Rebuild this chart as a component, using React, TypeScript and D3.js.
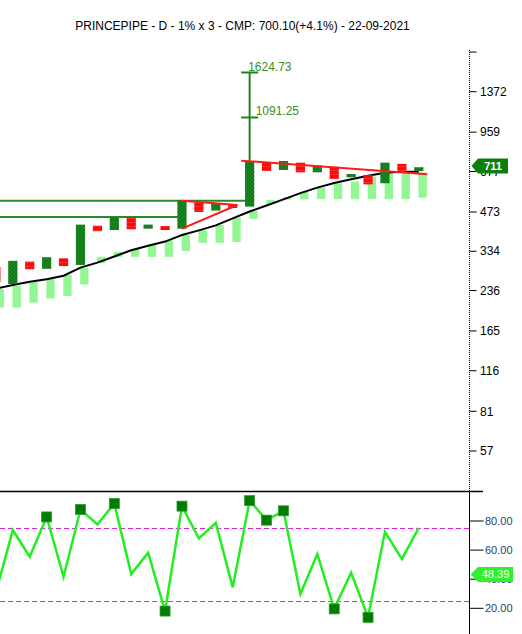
import React from "react";
import * as d3 from "d3";

// P&F chart data (column 0 sits just off the left edge)
const title = "PRINCEPIPE - D - 1% x 3 - CMP: 700.10(+4.1%) - 22-09-2021";
const colTypes = ["O", "X", "O", "X", "O", "X", "O", "X", "O", "X", "O", "X", "O", "X", "O", "X", "O", "X", "O", "X", "O", "X", "O", "X", "O", "X"];
const colLow = [255, 250, 285, 286, 293, 296, 399, 403, 406, 408, 403, 408, 473, 479, 490, 496, 680, 686, 672, 672, 633, 643, 604, 610, 670, 680];
const colHigh = [290, 307, 305, 317, 314, 423, 419, 451, 450, 423, 418, 523, 514, 508, 505, 743, 734, 743, 732, 714, 706, 662, 656, 732, 724, 703];
const bandLow = [203, 203, 212, 220, 225, 249, 301, 318, 318, 318, 318, 335, 360, 360, 363, 445, 508, 528, 529, 531, 531, 531, 531, 531, 531, 537];
const bandHigh = [239, 246, 254, 261, 271, 289, 318, 332, 341, 353, 367, 386, 403, 422, 450, 477, 526, 540, 566, 587, 610, 619, 647, 666, 670, 670];
const maValues = [240, 248, 255, 261, 269, 289, 302, 319, 337, 351, 364, 386, 402, 420, 447, 475, 501, 529, 559, 587, 611, 632, 652, 669, 676, 676];
const oscValues = [31, 73.7, 55.4, 82.8, 41.7, 87.9, 77.6, 92, 43.5, 58.2, 18.1, 90.2, 68, 78.7, 34.4, 94, 80.6, 87, 29.8, 57.3, 19.6, 44.4, 13.8, 72.6, 53.8, 75.3];

const priceTicks = [1949, 1372, 959, 677, 473, 334, 236, 165, 116, 81, 57];
const priceTickLabels = ["", "1372", "959", "677", "473", "334", "236", "165", "116", "81", "57"];
const oscTicks = [80, 60, 40, 20];
const oscTickLabels = ["80.00", "60.00", "40.00", "20.00"];
const oscBands = [75, 25];

const supportLevels = [
  { value: 522, endCol: 15 },
  { value: 452, endCol: 11 },
];
const targetCol = 15;
const targets = [1624.73, 1091.25];
const trendLine = [{ i: 14.5, v: 745 }, { i: 25.5, v: 660 }];
const triangle = [{ i: 11, v: 523 }, { i: 14.27, v: 503 }, { i: 11, v: 408 }];
const lastPrice = 711;
const lastOsc = 48.39;

const W = 522;
const H = 634;
const axisX = 469.5;
const sepY = 491.5;
const font = "'Liberation Sans', Arial, sans-serif";

export default function App() {
  const x = d3.scaleLinear().domain([0, 25]).range([-4.1, 418.8]);
  const y = d3.scaleLog().domain([57, 1372]).range([451, 91.7]);
  const yo = d3.scaleLinear().domain([20, 80]).range([608.3, 521]);

  const idx = d3.range(colTypes.length);

  const maLine = d3.line<number>()
    .x(i => x(i))
    .y(i => y(maValues[i]));

  const oscLine = d3.line<number>()
    .x(i => x(i))
    .y(i => yo(oscValues[i]));

  const pts = (arr: { i: number; v: number }[]) =>
    arr.map(p => `${x(p.i)},${y(p.v)}`).join(" ");

  const colW = 9.2;
  const tx = x(targetCol);
  const yPrice = y(lastPrice);
  const yOscLbl = yo(lastOsc) + 7.5;

  return (
    <div style={{ position: "absolute", left: 0, top: 0 }}>
      <svg width={W} height={H} style={{ display: "block", background: "#fff" }} fontFamily={font}>
        <defs>
          <clipPath id="top-clip">
            <rect x={0} y={40} width={axisX} height={sepY - 40} />
          </clipPath>
          <clipPath id="bot-clip">
            <rect x={0} y={sepY} width={axisX} height={H - sepY} />
          </clipPath>
          <pattern id="xhatch" width={4} height={4} patternUnits="userSpaceOnUse">
            <rect width={4} height={4} fill="#0f7a18" />
            <path d="M0,0 L4,4 M4,0 L0,4" stroke="#268d28" strokeWidth={0.6} />
          </pattern>
          <pattern id="ohatch" width={4} height={4} patternUnits="userSpaceOnUse">
            <rect width={4} height={4} fill="#ff0808" />
            <rect y={2} width={4} height={1} fill="#ff2e2e" />
          </pattern>
        </defs>

        <text x={242.5} y={29.7} fontSize={12} textAnchor="middle" fill="#000">{title}</text>

        {/* price panel */}
        <g clipPath="url(#top-clip)">
          {idx.map(i => (
            <rect key={"b" + i} x={x(i) - 0.3} width={8.3}
              y={y(bandHigh[i])} height={y(bandLow[i]) - y(bandHigh[i])} fill="#92f792" />
          ))}

          {supportLevels.map((s, k) => (
            <line key={"s" + k} x1={0} x2={x(s.endCol)} y1={y(s.value)} y2={y(s.value)}
              stroke="#2a8a2a" strokeWidth={2} />
          ))}

          <path d={maLine(idx) || ""} fill="none" stroke="#000" strokeWidth={2} />

          <line x1={tx} x2={tx} y1={y(targets[0])} y2={y(colHigh[targetCol])} stroke="#1f861f" strokeWidth={2} />
          {targets.map((t, k) => (
            <line key={"t" + k} x1={tx - 8.5} x2={tx + 8.5} y1={y(t)} y2={y(t)} stroke="#1f861f" strokeWidth={2} />
          ))}

          {idx.map(i => (
            <rect key={"c" + i} x={x(i) - colW / 2} width={colW}
              y={y(colHigh[i])} height={y(colLow[i]) - y(colHigh[i])}
              fill={colTypes[i] === "X" ? "url(#xhatch)" : "url(#ohatch)"} />
          ))}

          <polyline points={pts(trendLine)} fill="none" stroke="#ff1a1a" strokeWidth={2} />
          <polyline points={pts(triangle)} fill="none" stroke="#ff1a1a" strokeWidth={2} />
        </g>

        <text x={tx - 1.5} y={y(targets[0]) - 2} fontSize={12} fill="#3f8a1a">{targets[0].toFixed(2)}</text>
        <text x={tx + 6} y={y(targets[1]) - 2.5} fontSize={12} fill="#3f8a1a">{targets[1].toFixed(2)}</text>

        {/* price axis */}
        <line x1={axisX} x2={axisX} y1={50} y2={sepY} stroke="#000" strokeDasharray="1,1" />
        {priceTicks.map((t, k) => (
          <g key={"pt" + k} transform={`translate(0,${y(t)})`}>
            <line x1={axisX} x2={axisX + 7} stroke="#000" />
            <text x={axisX + 10.5} dy="0.35em" fontSize={12} fill="#000">{priceTickLabels[k]}</text>
          </g>
        ))}
        <path d={`M${axisX + 2},${yPrice} L${axisX + 8.5},${yPrice - 7.5} L${508},${yPrice - 7.5} L${508},${yPrice + 7.5} L${axisX + 8.5},${yPrice + 7.5} Z`}
          fill="#0a800a" />
        <text x={493} y={yPrice} dy="0.36em" fontSize={11} fontWeight="bold" fill="#fff" textAnchor="middle">{lastPrice}</text>

        {/* oscillator panel */}
        <line x1={0} x2={483} y1={sepY} y2={sepY} stroke="#000" strokeWidth={1.5} />
        <g clipPath="url(#bot-clip)">
          {oscBands.map((b, k) => (
            <line key={"ob" + k} x1={0} x2={axisX} y1={Math.round(yo(b)) + 0.5} y2={Math.round(yo(b)) + 0.5}
              stroke="#dd22dd" strokeWidth={1} strokeDasharray="5,3" />
          ))}
          <path d={oscLine(idx) || ""} fill="none" stroke="#22ee22" strokeWidth={2.5} strokeLinejoin="miter" />
          {idx.filter(i => oscValues[i] > 80 || oscValues[i] < 20).map(i => (
            <rect key={"m" + i} x={x(i) - 5} y={yo(oscValues[i]) - 5} width={10} height={10}
              fill="#007d00" stroke="#2f9a2f" strokeWidth={0.8} />
          ))}
        </g>

        <line x1={axisX} x2={axisX} y1={sepY} y2={H} stroke="#000" />
        {oscTicks.map((t, k) => (
          <g key={"ot" + k} transform={`translate(0,${yo(t)})`}>
            <line x1={axisX} x2={axisX + 14} stroke="#000" />
            <text x={axisX + 15.5} dy="0.35em" fontSize={11} fill="#1c3f6e">{oscTickLabels[k]}</text>
          </g>
        ))}
        <path d={`M${axisX + 1},${yOscLbl} L${axisX + 8.5},${yOscLbl - 7.5} L${513},${yOscLbl - 7.5} L${513},${yOscLbl + 7.5} L${axisX + 8.5},${yOscLbl + 7.5} Z`}
          fill="#2ef02e" />
        <text x={495.5} y={yOscLbl} dy="0.36em" fontSize={11} fill="#fff" textAnchor="middle">{lastOsc.toFixed(2)}</text>
      </svg>
    </div>
  );
}
